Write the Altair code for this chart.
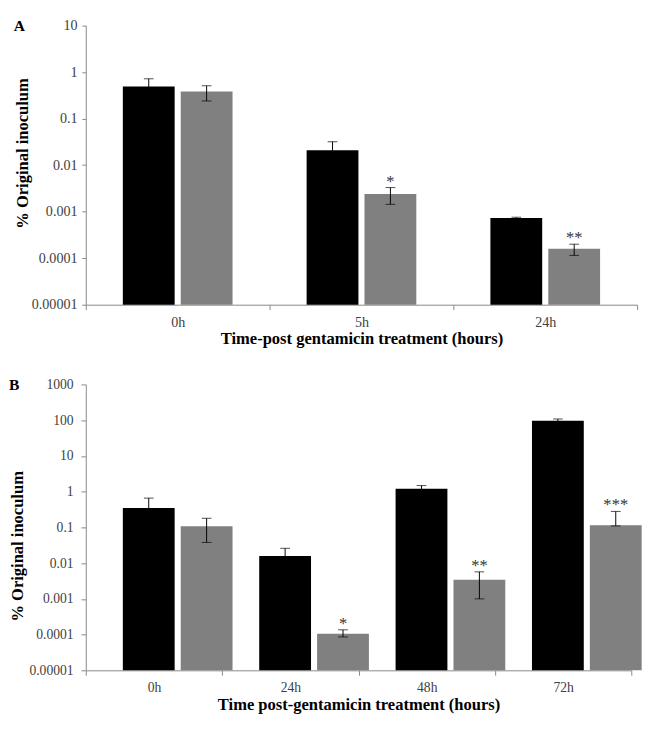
import altair as alt
import pandas as pd

SERIF = "Liberation Serif"
SERIES = ["Series 1", "Series 2"]
COLORS = ["#000000", "#808080"]

# Panel A
a_times = ["0h", "5h", "24h"]
a_s1 = [0.49, 0.021, 0.00073]
a_s1_lo = [0.27, 0.011, 0.00071]
a_s1_hi = [0.72, 0.032, 0.00076]
a_s2 = [0.385, 0.0024, 0.00016]
a_s2_lo = [0.24, 0.00144, 0.000115]
a_s2_hi = [0.51, 0.0033, 0.0002]
a_stars = ["", "*", "**"]
a_ticks = [0.00001, 0.0001, 0.001, 0.01, 0.1, 1, 10]

# Panel B
b_times = ["0h", "24h", "48h", "72h"]
b_s1 = [0.35, 0.0157, 1.2, 96]
b_s1_lo = [0.04, 0.0054, 0.92, 84]
b_s1_hi = [0.66, 0.026, 1.48, 108]
b_s2 = [0.108, 0.000106, 0.0034, 0.115]
b_s2_lo = [0.038, 0.000086, 0.001, 0.11]
b_s2_hi = [0.18, 0.000136, 0.0057, 0.28]
b_stars = ["", "*", "**", "***"]
b_ticks = [0.00001, 0.0001, 0.001, 0.01, 0.1, 1, 10, 100, 1000]


def make_df(times, s1, s1lo, s1hi, s2, s2lo, s2hi, stars):
    rows = []
    for i, t in enumerate(times):
        rows.append(dict(time=t, series=SERIES[0], value=s1[i], lo=s1lo[i], hi=s1hi[i], star=""))
        rows.append(dict(time=t, series=SERIES[1], value=s2[i], lo=s2lo[i], hi=s2hi[i], star=stars[i]))
    return pd.DataFrame(rows)


def panel(df, times, ticks, letter, xtitle, width, height, lab_size,
          y_tick, y_labpad, y_titlepad, title_y, off_pi, off_po, letter_x):
    x = alt.X("time:N", sort=times, title=xtitle,
              scale=alt.Scale(paddingInner=0, paddingOuter=0),
              axis=alt.Axis(labelAngle=0, tickBand="extent", tickSize=5,
                            labelPadding=6, titlePadding=2, labelFontSize=lab_size,
                            titleFontSize=17, titleFontWeight="bold"))
    xo = alt.XOffset("series:N", sort=SERIES,
                     scale=alt.Scale(paddingInner=off_pi, paddingOuter=off_po))
    yscale = alt.Scale(type="log", domain=[ticks[0], ticks[-1]], nice=False)
    yaxis = alt.Axis(values=ticks, format=".5~f", tickSize=y_tick, labelPadding=y_labpad,
                     titlePadding=y_titlepad, labelFontSize=lab_size, titleFontSize=17,
                     titleFontWeight="bold", titleY=title_y)
    ytitle = "% Original inoculum"
    base = alt.Chart(df)
    bars = base.mark_bar().encode(
        x=x, xOffset=xo,
        y=alt.Y("value:Q", scale=yscale, axis=yaxis, title=ytitle),
        y2=alt.datum(ticks[0]),
        color=alt.Color("series:N", scale=alt.Scale(domain=SERIES, range=COLORS), legend=None),
    )
    rules = base.mark_rule(color="black", strokeWidth=1).encode(
        x=x, xOffset=xo,
        y=alt.Y("lo:Q", scale=yscale, axis=yaxis, title=ytitle),
        y2="hi:Q",
    )
    cap_hi = base.mark_tick(color="black", size=10, thickness=1, orient="horizontal").encode(
        x=x, xOffset=xo, y=alt.Y("hi:Q", scale=yscale, axis=yaxis, title=ytitle))
    cap_lo = base.mark_tick(color="black", size=10, thickness=1, orient="horizontal").encode(
        x=x, xOffset=xo, y=alt.Y("lo:Q", scale=yscale, axis=yaxis, title=ytitle))
    stars = base.mark_text(font=SERIF, fontSize=17, color="#333333", baseline="alphabetic", dy=-1).encode(
        x=x, xOffset=xo, y=alt.Y("hi:Q", scale=yscale, axis=yaxis, title=ytitle), text="star:N")
    lab = alt.Chart(pd.DataFrame({"letter": [letter]})).mark_text(
        font=SERIF, fontSize=16, fontWeight="bold", align="left", baseline="top", color="black"
    ).encode(text="letter:N", x=alt.value(letter_x), y=alt.value(-7))
    return alt.layer(bars, rules, cap_hi, cap_lo, stars, lab).properties(width=width, height=height)


df_a = make_df(a_times, a_s1, a_s1_lo, a_s1_hi, a_s2, a_s2_lo, a_s2_hi, a_stars)
df_b = make_df(b_times, b_s1, b_s1_lo, b_s1_hi, b_s2, b_s2_lo, b_s2_hi, b_stars)

pa = panel(df_a, a_times, a_ticks, "A", "Time-post gentamicin treatment (hours)",
           567, 287, 14.5, 4, 5, 0, 131, 0.105, 0.64, -74)
pb = panel(df_b, b_times, b_ticks, "B", "Time post-gentamicin treatment (hours)",
           561, 294, 14, 5, 8, 3, 166, 0.09, 0.56, -79)

chart = alt.concat(pa, pb, columns=1, spacing=32, align="none").properties(
    padding={"left": 0, "top": 0, "right": 0, "bottom": 0}
).configure_view(stroke=None).configure_axis(
    domainColor="#868686", tickColor="#868686", labelFont=SERIF, titleFont=SERIF,
    labelColor="#404040", titleColor="#000000", grid=False
)

chart.save("out.html", embed_options={"renderer": "svg", "actions": False})
